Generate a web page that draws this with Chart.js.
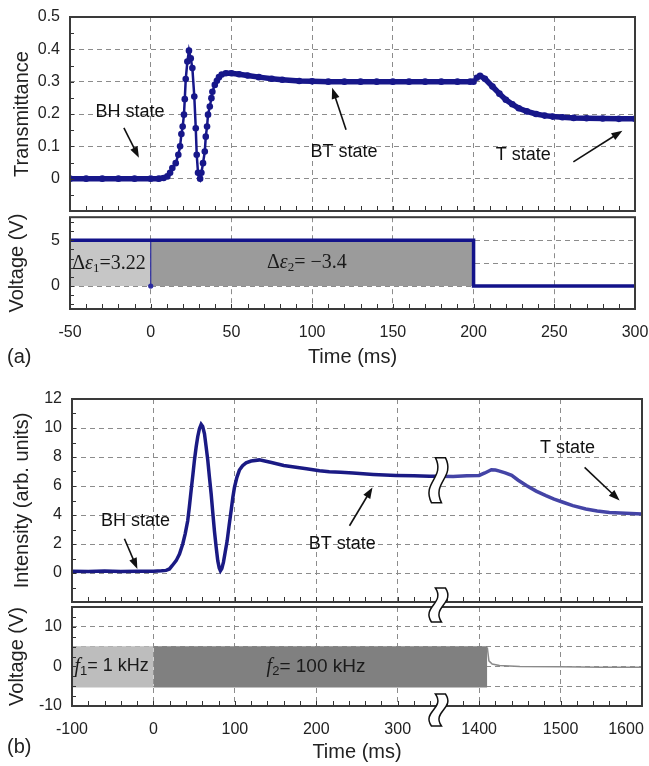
<!DOCTYPE html>
<html>
<head>
<meta charset="utf-8">
<script src="https://cdn.jsdelivr.net/npm/chart.js@4.4.1/dist/chart.umd.min.js"></script>
<style>
  body { margin: 0; background: #fff; width: 649px; height: 766px; overflow: hidden; position: relative; font-family: 'Liberation Sans', Arial, sans-serif; }
  canvas { position: absolute; left: 0; }
  .tag { position: absolute; left: 7px; font-size: 20px; color: #222; }
</style>
</head>
<body>
<canvas id="transChart" width="649" height="215" style="top:0px"></canvas>
<canvas id="voltAChart" width="649" height="157" style="top:212px"></canvas>
<canvas id="intChart" width="649" height="230" style="top:375px"></canvas>
<canvas id="voltBChart" width="649" height="180" style="top:585px"></canvas>
<div class="tag" style="top:345px">(a)</div>
<div class="tag" style="top:735px">(b)</div>
<script>
const SANS = "'Liberation Sans', Arial, sans-serif";
const SERIF = "'Liberation Serif', 'Times New Roman', serif";
const NAVY = '#17178a';

// ---- (a) transmittance (time in ms)
const timeA = [-50, -40, -30, -20, -10, 0, 5, 8,
  10.3, 12, 13.4, 15.5, 17.1, 18.2, 19, 19.8, 20.6, 21.1,
  21.7, 22.7, 23.7, 24.8, 25.8, 27, 27.9, 28.5, 29.3, 30.6,
  31.4, 32.4, 33.5, 34.1, 34.9, 35.5, 36.6, 37.6, 38.2, 39.7,
  41, 42.3, 44, 46.5, 50, 54.7, 60, 67, 75, 81.5,
  92, 100, 110, 120, 130, 140, 150, 160, 170, 180,
  190, 198, 200, 202, 204, 207, 211.7, 216, 220, 224,
  228, 233, 238.7, 244, 249, 255, 262, 270, 280, 290,
  300];
const transA = [0, 0, 0, 0, 0, 0, 0, 0.002,
  0.007, 0.018, 0.033, 0.048, 0.074, 0.10, 0.138, 0.161, 0.198, 0.246,
  0.308, 0.362, 0.396, 0.372, 0.342, 0.254, 0.156, 0.074, 0.018, 0.0,
  0.018, 0.048, 0.084, 0.13, 0.161, 0.198, 0.223, 0.249, 0.269, 0.29,
  0.303, 0.314, 0.322, 0.326, 0.326, 0.323, 0.319, 0.314, 0.309, 0.306,
  0.302, 0.301, 0.300, 0.300, 0.300, 0.300, 0.300, 0.300, 0.300, 0.300,
  0.300, 0.300, 0.300, 0.312, 0.318, 0.309, 0.285, 0.263, 0.244, 0.230,
  0.218, 0.208, 0.200, 0.195, 0.192, 0.190, 0.188, 0.187, 0.186, 0.185,
  0.185];

// ---- (a) drive voltage
const voltTimeA = [-50, 0, 200, 200, 300];
const voltA = [5, 5, 5, 0, 0];
const phaseEdgesA = [-50, 0, 200];
const phaseLevelA = 5;
const tickLabelsA = ['-50', '0', '50', '100', '150', '200', '250', '300'];

// ---- (b) intensity, time axis broken between 350 and 1350 ms
const timeB = [-100, -80, -60, -40, -20, 0, 10, 15.6, 19.7, 23,
  27.9, 32, 36, 39, 42.1, 44, 46.3, 48.5, 50.4, 52.5,
  54.4, 56.5, 58.6, 60.5, 62.7, 64.5, 66.7, 68.8, 70.9, 73,
  74.9, 77, 79, 80.8, 82.3, 84, 86, 88, 90.5, 93,
  95.4, 97.5, 99.5, 102.5, 105.6, 109.5, 113.8, 120, 130, 145,
  160, 175, 188, 204, 216, 230, 245, 270, 298, 320,
  339, 350];
const intB = [0.12, 0.10, 0.14, 0.10, 0.12, 0.12, 0.15, 0.18, 0.28, 0.5,
  0.85, 1.3, 2.0, 2.7, 3.6, 4.5, 5.7, 6.8, 7.8, 8.7,
  9.4, 9.95, 10.25, 10.1, 9.6, 8.8, 7.8, 6.6, 5.45, 4.1,
  2.9, 1.8, 0.85, 0.35, 0.15, 0.3, 0.75, 1.4, 2.2, 3.3,
  4.3, 5.2, 5.9, 6.6, 7.1, 7.4, 7.6, 7.72, 7.8, 7.62,
  7.42, 7.3, 7.19, 7.05, 6.98, 6.95, 6.89, 6.8, 6.73, 6.7,
  6.68, 6.67];
const timeB2 = [1350, 1368, 1385, 1400, 1407, 1415, 1420, 1425, 1432, 1440,
  1448, 1458, 1470, 1482, 1492, 1503, 1515, 1531, 1545, 1560,
  1580, 1600];
const intB2 = [6.67, 6.66, 6.70, 6.73, 6.9, 7.12, 7.10, 7.03, 6.9, 6.73,
  6.4, 6.03, 5.65, 5.34, 5.1, 4.88, 4.65, 4.41, 4.28, 4.18,
  4.12, 4.07];

// ---- (b) drive voltage
const phaseEdgesB = [-100, 0, 1410];
const driveHiB = 5.1, driveLoB = -5.3;
const tailTimeB = [1410, 1412, 1416, 1425, 1450, 1500, 1550, 1600];
const tailVoltB = [4.8, 1.4, 0.6, 0.2, 0.0, -0.1, -0.2, -0.2];
// last label sits inside the frame, as in the original
const tickLabelsB = ['-100', '0', '100', '200', '300', '1400', '1500', '1600\u2002\u2002\u2002\u2002'];

const BREAK_AT = 350, BREAK_GAP = 1000;
const squeeze = t => t > BREAK_AT ? t - BREAK_GAP : t;
const pts = (xs, ys, f) => xs.map((t, i) => ({ x: f ? f(t) : t, y: ys[i] }));

// ---------- drawing helpers
function arrow(ctx, x1, y1, x2, y2) {
  const a = Math.atan2(y2 - y1, x2 - x1), L = 11, W = 4;
  ctx.beginPath();
  ctx.moveTo(x1, y1);
  ctx.lineTo(x2 - L * 0.8 * Math.cos(a), y2 - L * 0.8 * Math.sin(a));
  ctx.stroke();
  ctx.beginPath();
  ctx.moveTo(x2, y2);
  ctx.lineTo(x2 - L * Math.cos(a) + W * Math.sin(a), y2 - L * Math.sin(a) - W * Math.cos(a));
  ctx.lineTo(x2 - L * Math.cos(a) - W * Math.sin(a), y2 - L * Math.sin(a) + W * Math.cos(a));
  ctx.closePath();
  ctx.fill();
}

function note(chart, text, at, from, to) {
  const { ctx, scales: { x, y } } = chart;
  ctx.save();
  ctx.fillStyle = '#111'; ctx.strokeStyle = '#111'; ctx.lineWidth = 1.6;
  ctx.font = '18px ' + SANS; ctx.textAlign = 'center'; ctx.textBaseline = 'middle';
  ctx.fillText(text, x.getPixelForValue(at[0]), y.getPixelForValue(at[1]));
  arrow(ctx, x.getPixelForValue(from[0]), y.getPixelForValue(from[1]),
    x.getPixelForValue(to[0]), y.getPixelForValue(to[1]));
  ctx.restore();
}

function rich(chart, at, parts) {
  const { ctx, scales: { x, y } } = chart;
  let px = x.getPixelForValue(at[0]);
  const py = y.getPixelForValue(at[1]);
  ctx.save();
  ctx.fillStyle = '#1a1a1a'; ctx.textBaseline = 'middle'; ctx.textAlign = 'left';
  parts.forEach(([s, font, dy]) => {
    ctx.font = font;
    ctx.fillText(s, px, py + (dy || 0));
    px += ctx.measureText(s).width;
  });
  ctx.restore();
}

function axisBreak(ctx, cx, cy, h) {
  const top = cy - h / 2, bot = cy + h / 2, w = 5, a = 12;
  const edge = dx => [[cx + 2 + dx, top], [cx + a + dx, top + h * 0.45], [cx - a + dx, top + h * 0.55], [cx - 2 + dx, bot]];
  const L = edge(-w), R = edge(w);
  ctx.save();
  ctx.beginPath();
  ctx.moveTo(...L[0]);
  ctx.bezierCurveTo(...L[1], ...L[2], ...L[3]);
  ctx.lineTo(...R[3]);
  ctx.bezierCurveTo(...R[2], ...R[1], ...R[0]);
  ctx.closePath();
  ctx.fillStyle = '#fff'; ctx.fill();
  ctx.strokeStyle = '#111'; ctx.lineWidth = 1.5; ctx.stroke();
  ctx.restore();
}

// frame + inward minor ticks, then extra drawing
function framePlugin(xMinor, yMinor, extra) {
  return {
    id: 'frame',
    afterDatasetsDraw(chart) {
      const { ctx, chartArea: a, scales: { x, y } } = chart;
      ctx.save();
      ctx.strokeStyle = '#333'; ctx.lineWidth = 1;
      const nx = Math.round((x.max - x.min) / xMinor);
      for (let i = 1; i < nx; i++) {
        const px = Math.round(x.getPixelForValue(x.min + i * xMinor)) + 0.5;
        ctx.beginPath(); ctx.moveTo(px, a.bottom); ctx.lineTo(px, a.bottom - 5); ctx.stroke();
      }
      const y0 = Math.ceil(y.min / yMinor - 1e-6) * yMinor;
      for (let v = y0; v < y.max - 1e-6; v += yMinor) {
        const py = Math.round(y.getPixelForValue(v)) + 0.5;
        ctx.beginPath(); ctx.moveTo(a.left, py); ctx.lineTo(a.left + 4, py); ctx.stroke();
      }
      ctx.lineWidth = 2; ctx.strokeStyle = '#3a3a3a';
      ctx.strokeRect(a.left, a.top, a.right - a.left, a.bottom - a.top);
      ctx.restore();
      if (extra) extra(chart);
    }
  };
}

function xAxis(min, max, step, labels, h, withTitle) {
  return {
    type: 'linear', min, max,
    ticks: {
      stepSize: step, display: !!labels, autoSkip: false, maxRotation: 0,
      callback: (v, i) => labels ? labels[i] : '',
      font: { family: SANS, size: 16 }, color: '#222', padding: 14
    },
    grid: { color: '#8c8c8c', lineWidth: 1, drawTicks: false },
    border: { display: false, dash: [5, 4] },
    title: { display: withTitle, text: 'Time (ms)', font: { family: SANS, size: 20 }, color: '#222', padding: { top: 0, bottom: 0 } },
    afterFit: s => { s.height = h; s.paddingLeft = 0; s.paddingRight = 0; }
  };
}

function yAxis(min, max, step, show, title, titlePad, w) {
  return {
    min, max,
    ticks: {
      stepSize: step, autoSkip: false,
      callback: v => show(v) ? String(Math.round(v * 100) / 100) : '',
      font: { family: SANS, size: 16 }, color: '#222', padding: 10
    },
    grid: { color: '#8c8c8c', lineWidth: 1, drawTicks: false },
    border: { display: false, dash: [5, 4] },
    title: { display: true, text: title, font: { family: SANS, size: 20 }, color: '#222', padding: { top: titlePad, bottom: 0 } },
    afterFit: s => { s.width = w; s.paddingTop = 0; s.paddingBottom = 0; }
  };
}

const base = (pad) => ({
  responsive: false, maintainAspectRatio: false, animation: false,
  layout: { padding: pad },
  plugins: { legend: { display: false }, tooltip: { enabled: false } }
});

// ---------- (a) transmittance
new Chart(document.getElementById('transChart'), {
  type: 'scatter',
  data: {
    datasets: [{
      data: pts(timeA, transA), showLine: true,
      borderColor: NAVY, backgroundColor: NAVY,
      borderWidth: 3, pointRadius: 3.3, pointBorderWidth: 0, pointHoverRadius: 0,
      segment: { borderWidth: c => (c.p1.parsed.x - c.p0.parsed.x) > 2.5 ? 5.5 : 2.5 }
    }]
  },
  options: Object.assign(base({ top: 17, right: 14, bottom: 4, left: 0 }), {
    scales: {
      x: xAxis(-50, 300, 50, null, 0, false),
      y: yAxis(-0.1, 0.5, 0.1, v => v > -0.05, 'Transmittance', 10, 70)
    }
  }),
  plugins: [framePlugin(10, 0.05, chart => {
    note(chart, 'BH state', [-12.8, 0.207], [-16.6, 0.157], [-7.3, 0.065]);
    note(chart, 'BT state', [119.8, 0.083], [121, 0.151], [112.4, 0.281]);
    note(chart, 'T state', [230.8, 0.074], [261.8, 0.052], [292.2, 0.148]);
  })]
});

// ---------- (a) voltage
new Chart(document.getElementById('voltAChart'), {
  type: 'scatter',
  data: {
    datasets: [
      { data: pts(voltTimeA, voltA), showLine: true, borderColor: '#13138a', borderWidth: 3.5, pointRadius: 0 },
      { data: [{ x: phaseEdgesA[1], y: 0 }, { x: phaseEdgesA[1], y: phaseLevelA }], showLine: true,
        borderColor: '#2a2aa0', borderWidth: 1.2, pointRadius: [2, 0], pointBackgroundColor: '#2a2aa0' },
      { data: [{ x: phaseEdgesA[0], y: phaseLevelA }, { x: phaseEdgesA[1], y: phaseLevelA }], showLine: true,
        borderWidth: 0, pointRadius: 0, fill: 'origin', backgroundColor: '#c6c6c6' },
      { data: [{ x: phaseEdgesA[1], y: phaseLevelA }, { x: phaseEdgesA[2], y: phaseLevelA }], showLine: true,
        borderWidth: 0, pointRadius: 0, fill: 'origin', backgroundColor: '#9b9b9b' }
    ]
  },
  options: Object.assign(base({ top: 5, right: 14, bottom: 0, left: 0 }), {
    scales: {
      x: xAxis(-50, 300, 50, tickLabelsA, 60, true),
      y: yAxis(-2.5, 7.5, 2.5, v => v === 0 || v === 5, 'Voltage (V)', 5, 70)
    }
  }),
  plugins: [framePlugin(10, 1, chart => {
    const big = '20px ' + SERIF, ital = 'italic 20px ' + SERIF, sub = '13px ' + SERIF;
    rich(chart, [-48.6, 2.4], [['\u0394', big], ['\u03b5', ital], ['1', sub, 5], ['=3.22', big]]);
    rich(chart, [72, 2.55], [['\u0394', big], ['\u03b5', ital], ['2', sub, 5], ['= \u22123.4', big]]);
  })]
});

// ---------- (b) intensity
new Chart(document.getElementById('intChart'), {
  type: 'scatter',
  data: {
    datasets: [
      { data: pts(timeB, intB, squeeze), showLine: true, borderColor: '#1a1a84', borderWidth: 3.5, pointRadius: 0 },
      { data: pts(timeB2, intB2, squeeze), showLine: true, borderColor: '#4444a6', borderWidth: 3.5, pointRadius: 0 }
    ]
  },
  options: Object.assign(base({ top: 24, right: 7, bottom: 3, left: 0 }), {
    scales: {
      x: xAxis(-100, 600, 100, null, 0, false),
      y: yAxis(-2, 12, 2, v => v >= 0, 'Intensity (arb. units)', 10, 72)
    }
  }),
  plugins: [framePlugin(20, 1, chart => {
    const { x, y } = chart.scales;
    axisBreak(chart.ctx, x.getPixelForValue(BREAK_AT), y.getPixelForValue(6.4), 45);
    note(chart, 'BH state', [-22, 3.6], [-35.6, 2.36], [-19.7, 0.28]);
    note(chart, 'BT state', [232, 2.0], [240.8, 3.26], [269, 5.9]);
    note(chart, 'T state', [508.6, 8.6], [529.5, 7.28], [572.5, 5.0]);
  })]
});

// ---------- (b) voltage
new Chart(document.getElementById('voltBChart'), {
  type: 'scatter',
  data: {
    datasets: [
      { data: pts(tailTimeB, tailVoltB, squeeze), showLine: true, borderColor: '#8a8a8a', borderWidth: 1.5, pointRadius: 0 },
      { data: [{ x: phaseEdgesB[0], y: driveHiB }, { x: phaseEdgesB[1], y: driveHiB }], showLine: true,
        borderWidth: 0, pointRadius: 0, fill: { value: driveLoB }, backgroundColor: '#bdbdbd' },
      { data: [{ x: phaseEdgesB[1], y: driveHiB }, { x: squeeze(phaseEdgesB[2]), y: driveHiB }], showLine: true,
        borderWidth: 0, pointRadius: 0, fill: { value: driveLoB }, backgroundColor: '#808080' }
    ]
  },
  options: Object.assign(base({ top: 22, right: 7, bottom: 1, left: 0 }), {
    scales: {
      x: xAxis(-100, 600, 100, tickLabelsB, 58, true),
      y: yAxis(-10, 15, 5, v => v % 10 === 0, 'Voltage (V)', 5, 72)
    }
  }),
  plugins: [framePlugin(20, 2.5, chart => {
    const { ctx, chartArea: a, scales: { x } } = chart;
    const bx = x.getPixelForValue(BREAK_AT);
    axisBreak(ctx, bx, a.top - 2, 34);
    axisBreak(ctx, bx, a.bottom + 4, 32);
    const ital = 'italic 20px ' + SERIF, sub = '13px ' + SANS;
    rich(chart, [-97, 0], [['f', ital], ['1', sub, 5], ['= 1 kHz', '18px ' + SANS]]);
    rich(chart, [139, 0], [['f', ital], ['2', sub, 5], ['= 100 kHz', '19px ' + SANS]]);
  })]
});
</script>
</body>
</html>
